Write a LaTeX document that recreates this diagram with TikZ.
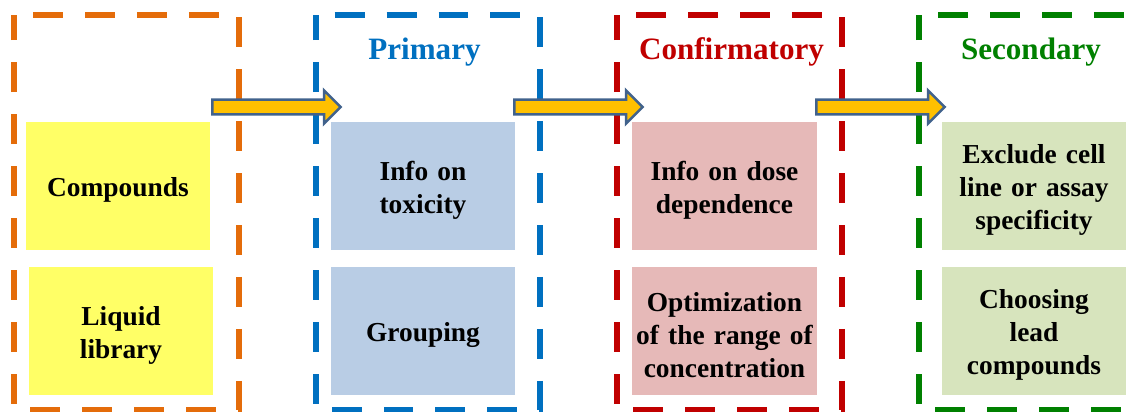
\documentclass[tikz,border=0pt]{standalone}
\usepackage{fontspec}
\setmainfont{Liberation Serif}
\usepackage{tikz}
\usetikzlibrary{shapes.arrows}

\definecolor{libOrange}{HTML}{E46C0A}
\definecolor{primBlue}{HTML}{0070C0}
\definecolor{confRed}{HTML}{C00000}
\definecolor{secGreen}{HTML}{008000}
\definecolor{libFill}{HTML}{FFFF66}
\definecolor{primFill}{HTML}{B9CDE5}
\definecolor{confFill}{HTML}{E6B9B8}
\definecolor{secFill}{HTML}{D7E4BD}
\definecolor{arrowFill}{HTML}{FFC000}
\definecolor{arrowEdge}{HTML}{41628C}

\begin{document}
\begin{tikzpicture}[x=0.02cm,y=-0.02cm,
    stageframe/.style={line width=0.12cm,dash pattern=on 0.6cm off 0.44cm,
      dash phase=0.66cm}]
    \useasboundingbox (0,0) rectangle (1137,412);

    % stage areas, drawn below as dashed frames
    \begin{scope}[every node/.style={rectangle,outer sep=0pt,
        minimum width=4.5cm,minimum height=7.9cm}]
      \node (lib) at (126.5,212.5) {};
      \node (prim) at (428,212.5) {};
      \node (conf) at (729.5,212.5) {};
      \node (sec) at (1031.5,212.5) {};
    \end{scope}
    \foreach \st/\col in {lib/libOrange,prim/primBlue,conf/confRed,sec/secGreen}
      \draw[stageframe,draw=\col] (\st.north west) -- (\st.north east)
        -- (\st.south east) -- (\st.south west) -- cycle;

    % stage titles
    \begin{scope}[every node/.style={font=\bfseries\fontsize{17.7}{21}\selectfont}]
      \node[text=primBlue] (primT) at (424.5,52) {Primary};
      \node[text=confRed] (confT) at (731.5,52) {Confirmatory};
      \node[text=secGreen] (secT) at (1031,52) {Secondary};
    \end{scope}

    % content boxes
    \begin{scope}[every node/.style={rectangle,minimum width=3.7cm,
        minimum height=2.56cm,text width=3.6cm,text height=0.55cm,
        inner sep=0.05cm,align=center,
        font=\bfseries\fontsize{15.6}{18.7}\selectfont}]
      \node[fill=libFill] (lib1) at (118,186) {Compounds};
      \node[fill=libFill] (lib2) at (121,331) {Liquid\\library};
      \node[fill=primFill] (prim1) at (423,186) {Info on\\toxicity};
      \node[fill=primFill] (prim2) at (423,331) {Grouping};
      \node[fill=confFill] (conf1) at (724.5,186) {Info on dose\\dependence};
      \node[fill=confFill] (conf2) at (724.5,331) {Optimization\\of the range of\\concentration};
      \node[fill=secFill] (sec1) at (1034,186) {Exclude cell\\line or assay\\specificity};
      \node[fill=secFill] (sec2) at (1034,331) {Choosing\\lead\\compounds};
    \end{scope}

    % block arrows between stages
    \coordinate (t1) at (211,107);
    \coordinate (t2) at (513,107);
    \coordinate (t3) at (815,107);
    \begin{scope}[every node/.style={single arrow,draw=arrowEdge,fill=arrowFill,
        line width=0.05cm,minimum height=2.57cm,inner sep=0.125cm,
        single arrow head extend=0.18cm,anchor=tail}]
      \node (a1) at (t1) {};
      \node (a2) at (t2) {};
      \node (a3) at (t3) {};
    \end{scope}
  \end{tikzpicture}
\end{document}
